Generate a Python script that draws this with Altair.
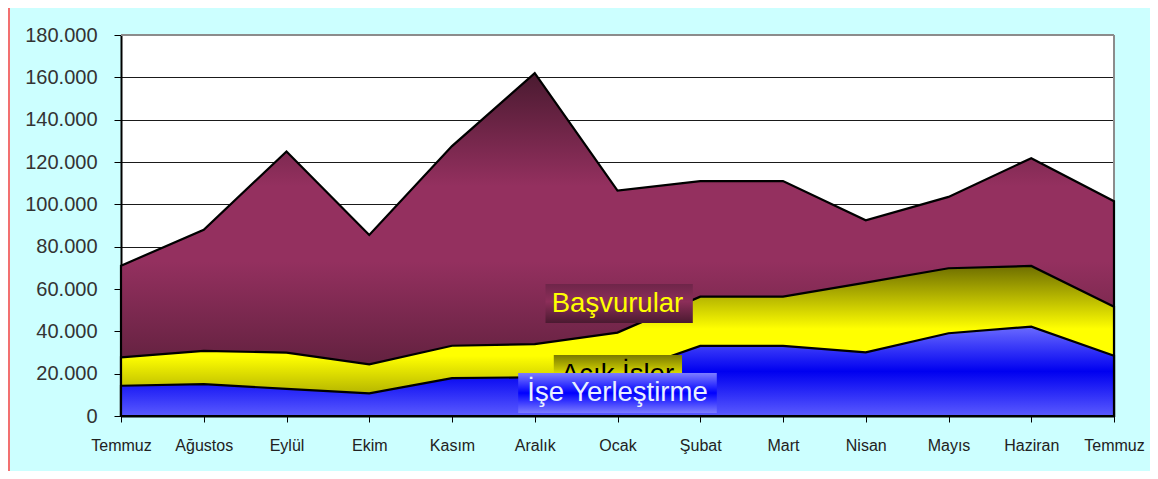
import json
import altair as alt
import pandas as pd

# ---- data ----
months = ["Temmuz", "Ağustos", "Eylül", "Ekim", "Kasım", "Aralık", "Ocak",
          "Şubat", "Mart", "Nisan", "Mayıs", "Haziran", "Temmuz"]
basvurular = [71000, 88000, 125000, 85500, 127500, 162000, 106500,
              111000, 111000, 92500, 103500, 121800, 101500]
acik_isler = [27700, 30800, 29900, 24400, 33200, 34000, 39400,
              56400, 56400, 63000, 69800, 70900, 51600]
ise_yerlestirme = [14300, 15100, 12800, 10700, 17900, 18300, 19500,
                   33100, 33100, 30100, 39100, 42200, 28500]
y_ticks = [0, 20000, 40000, 60000, 80000, 100000, 120000, 140000, 160000, 180000]

# in-chart series labels (data units: month index, value)
label_texts = ["Başvurular", "Açık İşler", "İşe Yerleştirme"]
label_i = [6.0, 6.0, 6.0]
label_v = [53000, 19600, 10800]
box_i1 = [5.13, 5.23, 4.80]
box_i2 = [6.91, 6.78, 7.20]
box_v1 = [43900, 10900, 1400]
box_v2 = [62400, 28800, 20300]

W, H = 993, 381
FONT = "Liberation Sans"

idx = list(range(len(months)))


def grad(stops):
    return alt.LinearGradient(
        gradient="linear", x1=0, y1=0, x2=0, y2=1,
        stops=[alt.GradientStop(offset=o, color=c) for o, c in stops])


x_enc = alt.X("i:Q", title=None,
              scale=alt.Scale(domain=[0, len(months) - 1], nice=False, zero=False),
              axis=alt.Axis(values=idx, grid=False,
                            labelExpr=f"{json.dumps(months, ensure_ascii=False)}[datum.value]",
                            labelFontSize=16, labelColor="#222", labelFont=FONT,
                            tickSize=6, tickColor="black", labelPadding=15,
                            domainColor="black", domainWidth=2, labelFlush=False))
y_enc = alt.Y("v:Q", title=None,
              scale=alt.Scale(domain=[0, 180000], nice=False),
              axis=alt.Axis(values=y_ticks, grid=True, gridColor="#1a1a1a", gridWidth=1,
                            labelExpr="replace(format(datum.value, ','), ',', '.')",
                            labelFontSize=20, labelColor="#333", labelFont=FONT,
                            tickSize=7, tickColor="black", labelPadding=17,
                            domainColor="black", domainWidth=2))

purple = grad([(0, "#4a1a30"), (0.33, "#94305f"), (0.55, "#94305f"), (1, "#4a1a30")])
yellow = grad([(0, "#6e6e00"), (0.42, "#ffff00"), (0.6, "#ffff00"), (1, "#8a8a00")])
blue = grad([(0, "#6a6aff"), (0.5, "#0000f0"), (1, "#5a5aff")])


def area(values, fill):
    df = pd.DataFrame({"i": idx, "v": values})
    return alt.Chart(df).mark_area(fill=fill, stroke="black", strokeWidth=2.2,
                                   strokeJoin="miter").encode(x=x_enc, y=y_enc)


one = pd.DataFrame({"a": [0]})
border_top = alt.Chart(one).mark_rule(color="#8c8c8c", strokeWidth=2).encode(
    x=alt.value(0), x2=alt.value(W), y=alt.value(0))
border_right = alt.Chart(one).mark_rule(color="#8c8c8c", strokeWidth=2).encode(
    x=alt.value(W), y=alt.value(0), y2=alt.value(H))
red_line = alt.Chart(one).mark_rule(color="#f27070", strokeWidth=2).encode(
    x=alt.value(-112), y=alt.value(-27), y2=alt.value(H + 60))

box_fills = [
    grad([(0, "#6e2549"), (0.45, "#8c2e59"), (1, "#4a1a30")]),
    grad([(0, "#7a7a00"), (0.55, "#e6e600"), (1, "#ffff00")]),
    grad([(0, "#7d7dff"), (0.5, "#0000ff"), (1, "#7d7dff")]),
]
text_colors = ["#ffff00", "#000000", "#e8f0ff"]

layers = [border_top, border_right,
          area(basvurular, purple), area(acik_isler, yellow), area(ise_yerlestirme, blue)]
for k in range(len(label_texts)):
    bdf = pd.DataFrame({"i": [box_i1[k]], "i2": [box_i2[k]],
                        "v": [box_v1[k]], "v2": [box_v2[k]]})
    layers.append(alt.Chart(bdf).mark_rect(fill=box_fills[k]).encode(
        x=alt.X("i:Q"), x2="i2", y=alt.Y("v:Q"), y2="v2"))
    tdf = pd.DataFrame({"i": [label_i[k]], "v": [label_v[k]], "t": [label_texts[k]]})
    layers.append(alt.Chart(tdf).mark_text(
        font=FONT, fontSize=27.5, color=text_colors[k], baseline="middle", align="center"
    ).encode(x=alt.X("i:Q"), y=alt.Y("v:Q"), text="t:N"))
layers.append(red_line)

chart = alt.layer(*layers).properties(
    width=W, height=H,
    autosize=alt.AutoSizeParams(type="none"),
    padding={"left": 113, "top": 27, "right": 36, "bottom": 55},
    background="#ccffff",
).configure_view(fill="white", stroke=None)

chart.save("out.html", embed_options={"renderer": "svg", "actions": False})
